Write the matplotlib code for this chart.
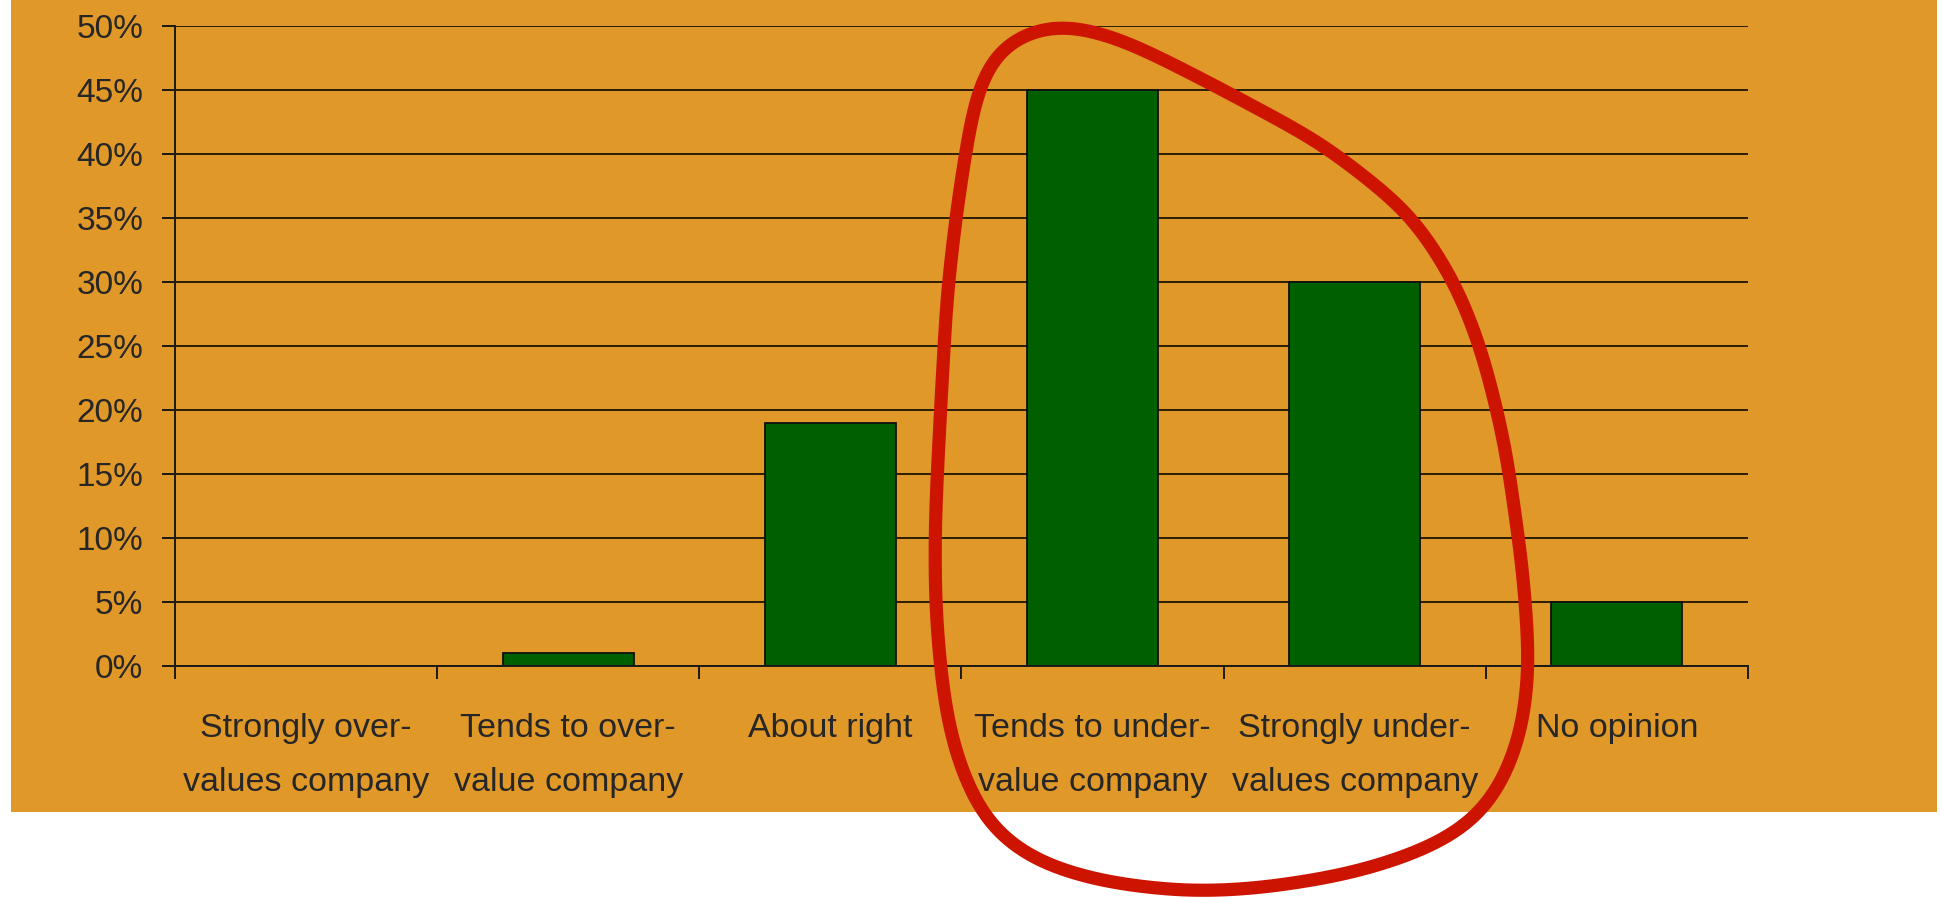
import numpy as np
import matplotlib
matplotlib.use("Agg")
import matplotlib.pyplot as plt
from matplotlib.patches import Rectangle
from matplotlib.lines import Line2D
from matplotlib.ticker import FixedLocator, PercentFormatter

# ---- data ----
categories = ["Strongly over-\nvalues company", "Tends to over-\nvalue company", "About right",
              "Tends to under-\nvalue company", "Strongly under-\nvalues company", "No opinion"]
values = [0, 1, 19, 45, 30, 5]
yticks = [0, 5, 10, 15, 20, 25, 30, 35, 40, 45, 50]

W, H = 1941, 898
fig = plt.figure(figsize=(W / 100, H / 100), dpi=100, facecolor="white")

ORANGE = "#E09828"
TXT = "#262626"
fig.patches.append(Rectangle((11 / W, 1 - 812 / H), (1937 - 11) / W, 812 / H,
                             transform=fig.transFigure, facecolor=ORANGE, edgecolor="none", zorder=-5))

left, right, top, bottom = 175, 1748, 25.7, 666
ax = fig.add_axes([left / W, 1 - bottom / H, (right - left) / W, (bottom - top) / H])
ax.set_facecolor("none")

x = np.arange(len(categories))
ax.bar(x, values, width=0.5, color="#006000", edgecolor="#101010", linewidth=1.3, zorder=3)

ax.set_xlim(-0.5, len(categories) - 0.5)
ax.set_ylim(0, 50)
ax.set_yticks(yticks)
ax.yaxis.set_major_formatter(PercentFormatter(decimals=0))
ax.grid(axis="y", color="#2b1d0a", linewidth=1.4, zorder=1)
ax.set_axisbelow(True)

for s in ["top", "right"]:
    ax.spines[s].set_visible(False)
for s in ["left", "bottom"]:
    ax.spines[s].set_color("#1a1a1a")
    ax.spines[s].set_linewidth(1.4)
    ax.spines[s].set_zorder(4)

ax.tick_params(axis="y", length=9.4, width=1.4, color="#1a1a1a", pad=13.5,
               labelsize=24, labelcolor=TXT)
for lab in ax.get_yticklabels():
    lab.set_fontfamily(["Liberation Sans", "DejaVu Sans"])

# boundary ticks (marks) and centered category labels
ax.xaxis.set_major_locator(FixedLocator(np.arange(-0.5, len(categories), 1.0)))
ax.set_xticklabels([""] * (len(categories) + 1))
ax.set_xticks(x, minor=True)
ax.set_xticklabels(categories, minor=True)
ax.tick_params(axis="x", which="major", length=9, width=1.4, color="#1a1a1a")
ax.tick_params(axis="x", which="minor", length=0, pad=34, labelsize=24.5, labelcolor=TXT)
for lab in ax.get_xticklabels(minor=True):
    lab.set_fontfamily(["Liberation Sans", "DejaVu Sans"])
    lab.set_linespacing(1.93)

# ---- red hand-drawn loop annotation (pixel coordinates of the reference) ----
loop_px = [(1054, 20), (1121, 38), (1210, 83), (1322, 143), (1411, 213), (1456, 283),
           (1482, 350), (1505, 443), (1523, 570), (1530, 667), (1522, 735),
           (1498, 795), (1467, 829), (1413, 855), (1346, 875), (1257, 889), (1186, 892),
           (1101, 882), (1034, 862), (989, 829), (967, 787), (949, 733), (940, 667),
           (935, 600), (935, 520), (940, 420), (947, 293), (958, 200), (975, 95), (995, 45)]
P = np.array(loop_px, dtype=float)
Pc = np.vstack([P, P[:1]])
seg = np.hypot(*np.diff(Pc, axis=0).T)
s = np.concatenate([[0], np.cumsum(seg)])
N = 1024
su = np.linspace(0, s[-1], N, endpoint=False)
z = np.interp(su, s, Pc[:, 0]) + 1j * np.interp(su, s, Pc[:, 1])
Z = np.fft.fft(z)
k = np.fft.fftfreq(N, d=1.0 / N)
Z *= np.exp(-(k / 17.0) ** 2)   # smooth low-pass without ringing
zs = np.fft.ifft(Z)
zs = np.append(zs, zs[0])
fig.lines.append(Line2D(zs.real / W, 1 - zs.imag / H, transform=fig.transFigure,
                        color="#CC1400", linewidth=9.5, solid_joinstyle="round",
                        solid_capstyle="round", zorder=10))

fig.savefig("out.png", dpi=100, facecolor="white")
